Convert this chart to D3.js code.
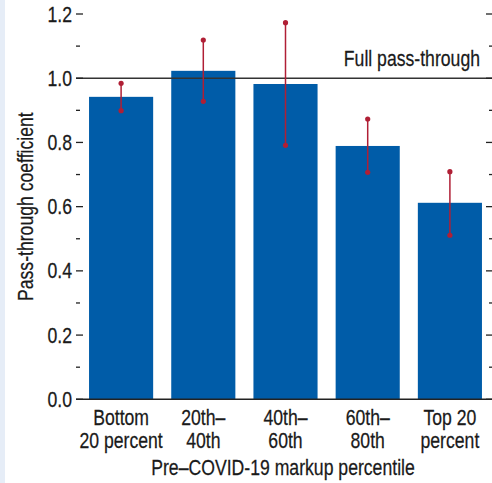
<!DOCTYPE html>
<html>
<head>
<meta charset="utf-8">
<script src="https://cdn.jsdelivr.net/npm/d3@7"></script>
<style>
  body { margin: 0; background: #fff; }
  svg { display: block; font-family: "Liberation Sans", Arial, sans-serif; }
</style>
</head>
<body>
<div id="chart"></div>
<script>
'use strict';
// data
var categories = ['Bottom\n20 percent', '20th–\n40th', '40th–\n60th', '60th–\n80th', 'Top 20\npercent'];
var coefficients = [0.942, 1.023, 0.982, 0.789, 0.612];
var upperBounds = [0.984, 1.119, 1.173, 0.873, 0.709];
var lowerBounds = [0.899, 0.928, 0.791, 0.707, 0.511];
var majorTicks = [0, 0.2, 0.4, 0.6, 0.8, 1.0, 1.2];
var minorTicks = [0.1, 0.3, 0.5, 0.7, 0.9, 1.1];

var width = 492, height = 483;
var fontSize = 21.5;
var squeeze = 0.82; // condensed look

var svg = d3.select('#chart').append('svg')
    .attr('width', width)
    .attr('height', height);

// condensed text: a group that is squeezed horizontally
function label(parent, px, py, str, anchor, rot) {
  var g = parent.append('g')
      .attr('transform', 'translate(' + px + ',' + py + ')' +
            (rot ? ' rotate(' + rot + ')' : '') + ' scale(' + squeeze + ',1)');
  return g.append('text')
      .attr('text-anchor', anchor)
      .attr('font-size', fontSize)
      .attr('fill', '#1a1a1a')
      .attr('stroke', '#1a1a1a')
      .attr('stroke-width', 0.25)
      .text(str);
}

// light strip at left edge
svg.append('rect')
    .attr('x', 0).attr('y', 0)
    .attr('width', 5).attr('height', height)
    .attr('fill', '#e6edf7');

var x = d3.scaleBand()
    .domain(categories)
    .range([80, 491])
    .paddingInner(0.22)
    .paddingOuter(0.11);

var y = d3.scaleLinear()
    .domain([0, 1.2])
    .range([399.3, 14]);

// bars
svg.selectAll('.bar')
    .data(coefficients)
  .enter().append('rect')
    .attr('class', 'bar')
    .attr('x', function(d, i) { return x(categories[i]); })
    .attr('width', x.bandwidth())
    .attr('y', function(d) { return y(d); })
    .attr('height', function(d) { return y(0) - y(d); })
    .attr('fill', '#005ca8');

// full pass-through line
svg.append('line')
    .attr('x1', 76).attr('x2', width)
    .attr('y1', y(1)).attr('y2', y(1))
    .attr('stroke', '#333').attr('stroke-width', 1.5);

label(svg, 480, y(1) - 12, 'Full pass-through', 'end');

// error bars
var err = svg.selectAll('.err')
    .data(coefficients)
  .enter().append('g')
    .attr('class', 'err')
    .attr('transform', function(d, i) {
      return 'translate(' + (x(categories[i]) + x.bandwidth() / 2) + ',0)';
    });

err.append('line')
    .attr('y1', function(d, i) { return y(upperBounds[i]); })
    .attr('y2', function(d, i) { return y(lowerBounds[i]); })
    .attr('stroke', '#b01f35')
    .attr('stroke-width', 1.5);

err.append('circle')
    .attr('cy', function(d, i) { return y(upperBounds[i]); })
    .attr('r', 2.6)
    .attr('fill', '#b01f35');

err.append('circle')
    .attr('cy', function(d, i) { return y(lowerBounds[i]); })
    .attr('r', 2.6)
    .attr('fill', '#b01f35');

// left axis
var left = svg.append('g')
    .attr('transform', 'translate(76,0)');

left.selectAll('.major')
    .data(majorTicks)
  .enter().append('line')
    .attr('x1', 0).attr('x2', 7)
    .attr('y1', function(d) { return y(d); })
    .attr('y2', function(d) { return y(d); })
    .attr('stroke', '#222').attr('stroke-width', 1.3);

left.selectAll('.minor')
    .data(minorTicks)
  .enter().append('line')
    .attr('x1', 0).attr('x2', 4)
    .attr('y1', function(d) { return y(d); })
    .attr('y2', function(d) { return y(d); })
    .attr('stroke', '#222').attr('stroke-width', 1.3);

majorTicks.forEach(function(t) {
  label(left, -4, y(t) + 7.5, t.toFixed(1), 'end');
});

// right axis ticks
var right = svg.append('g')
    .attr('transform', 'translate(' + width + ',0)');

right.selectAll('.major')
    .data(majorTicks)
  .enter().append('line')
    .attr('x1', -6).attr('x2', 0)
    .attr('y1', function(d) { return y(d); })
    .attr('y2', function(d) { return y(d); })
    .attr('stroke', '#222').attr('stroke-width', 1.3);

right.selectAll('.minor')
    .data(minorTicks)
  .enter().append('line')
    .attr('x1', -3).attr('x2', 0)
    .attr('y1', function(d) { return y(d); })
    .attr('y2', function(d) { return y(d); })
    .attr('stroke', '#222').attr('stroke-width', 1.3);

// baseline
svg.append('line')
    .attr('x1', 76).attr('x2', width)
    .attr('y1', y(0)).attr('y2', y(0))
    .attr('stroke', '#222').attr('stroke-width', 1.5);

// category labels
categories.forEach(function(c) {
  c.split('\n').forEach(function(line, i) {
    label(svg, x(c) + x.bandwidth() / 2, 425 + i * 23, line, 'middle');
  });
});

// axis titles
label(svg, 283, 475, 'Pre–COVID-19 markup percentile', 'middle');
label(svg, 33, y(0.6), 'Pass-through coefficient', 'middle', -90);
</script>
</body>
</html>
